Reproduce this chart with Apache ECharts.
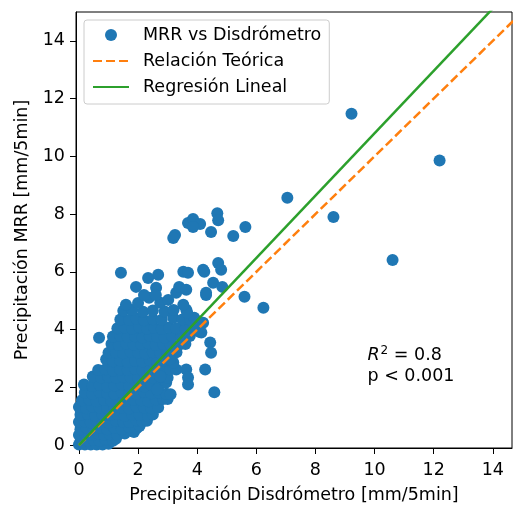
<!DOCTYPE html>
<html>
<head>
<meta charset="utf-8">
<script src="https://cdn.jsdelivr.net/npm/echarts@6/dist/echarts.min.js"></script>
<style>
  html, body { margin: 0; padding: 0; background: #fff; }
  #main { width: 513px; height: 505px; }
</style>
</head>
<body>
<div id="main"></div>
<script>
// ticks
const xTicks = [0, 2, 4, 6, 8, 10, 12, 14]
const yTicks = [0, 2, 4, 6, 8, 10, 12, 14]

// puntos (disdrómetro, MRR) leídos del gráfico
// núcleo denso cerca del origen
const denseCore = [
  [0,0.02],[0.2,0.02],[0.4,0.02],[0.6,0.02],[0.8,0.02],[1.0,0.05],
  [0.1,0.18],[0.3,0.15],[0.5,0.18],[0.7,0.15],[0.9,0.2],[1.15,0.15],[1.25,0.22],
  [0,0.35],[0.2,0.38],[0.45,0.35],[0.65,0.4],[0.85,0.35],[1.05,0.38],[1.3,0.35],[1.55,0.4],[1.86,0.45],
  [0.05,0.55],[0.25,0.6],[0.5,0.55],[0.7,0.6],[0.95,0.55],[1.2,0.6],[1.45,0.55],[1.7,0.62],[1.95,0.58],[2.05,0.66],
  [0,0.8],[0.2,0.82],[0.4,0.78],[0.6,0.84],[0.8,0.8],[1.0,0.78],[1.25,0.84],[1.5,0.8],[1.7,0.8],[1.95,0.86],[2.15,0.82],[2.3,0.84],
  [0.05,1.05],[0.3,1.08],[0.55,1.02],[0.8,1.06],[1.05,1.04],[1.3,1.08],[1.55,1.02],[1.8,1.06],[2.05,1.04],[2.34,1.0],[2.5,1.06],
  [0,1.32],[0.25,1.28],[0.45,1.34],[0.7,1.3],[0.95,1.28],[1.2,1.33],[1.45,1.3],[1.7,1.27],[1.95,1.33],[2.2,1.3],[2.45,1.28],[2.68,1.3],
  [0.1,1.55],[0.35,1.58],[0.6,1.52],[0.85,1.56],[1.1,1.54],[1.35,1.58],[1.6,1.53],[1.85,1.57],[2.1,1.55],[2.35,1.52],[2.6,1.58],[2.85,1.6],[3.0,1.6],
  [0.2,1.82],[0.45,1.78],[0.7,1.84],[0.95,1.8],[1.2,1.78],[1.45,1.83],[1.7,1.8],[1.95,1.78],[2.2,1.84],[2.45,1.8],[2.7,1.82],[2.95,1.78],[3.1,1.76],
  [0.17,2.1],[0.45,2.05],[0.7,2.08],[0.95,2.03],[1.2,2.06],[1.45,2.1],[1.7,2.04],[1.95,2.07],[2.2,2.03],[2.45,2.08],[2.7,2.05],[2.95,2.17],
  [0.47,2.38],[0.75,2.34],[1.0,2.36],[1.25,2.33],[1.5,2.37],[1.75,2.35],[2.0,2.32],[2.25,2.38],[2.5,2.34],[2.75,2.38],[3.0,2.33],
  [0.65,2.6],[0.9,2.63],[1.15,2.58],[1.4,2.62],[1.65,2.6],[1.9,2.64],[2.15,2.58],[2.4,2.62],[2.65,2.6],[2.9,2.63],[3.08,2.62],[3.29,2.62],
  [0.92,2.97],[1.15,2.9],[1.4,2.93],[1.65,2.88],[1.9,2.92],[2.15,2.9],[2.4,2.94],[2.65,2.88],[2.9,2.92],[3.08,2.97],[3.19,2.86],
  [1.0,3.2],[1.25,3.22],[1.5,3.18],[1.75,3.23],[2.0,3.2],[2.25,3.17],[2.5,3.22],[2.75,3.2],[3.0,3.18],[3.3,3.22],
  [1.1,3.5],[1.35,3.47],[1.6,3.52],[1.85,3.48],[2.1,3.5],[2.35,3.53],[2.6,3.47],[2.85,3.5],[3.1,3.48],[3.32,3.41],[3.6,3.5],
  [0.68,3.72],[1.15,3.76],[1.4,3.78],[1.65,3.74],[1.9,3.77],[2.15,3.73],[2.4,3.78],[2.65,3.75],[2.9,3.72],[3.15,3.77],[3.45,3.74],[3.75,3.78],[4.07,3.93],
  [1.3,4.05],[1.55,4.07],[1.8,4.03],[2.05,4.08],[2.3,4.04],[2.55,4.06],[2.8,4.02],[3.05,4.07],[3.3,4.05],[3.6,4.03],[3.9,4.1],
  [1.4,4.35],[1.7,4.33],[1.95,4.38],[2.2,4.32],[2.5,4.36],[2.8,4.34],[3.19,4.41],[3.5,4.35],[3.76,4.34],[4.2,4.24],[3.9,4.41],
  [1.5,4.65],[1.8,4.68],[2.17,4.62],[2.5,4.66],[2.9,4.63],[3.2,4.68],[3.63,4.69],[3.66,4.59],
  [1.59,4.86],[2.0,4.92],[2.37,5.1],[2.75,4.93],[3.02,5.03],[3.53,4.86]
]
// puntos dispersos alrededor del núcleo
const looseMid = [
  [1.93,5.48],[2.34,5.79],[2.68,5.9],[2.61,5.45],[2.2,5.2],[2.6,5.2],[3.29,5.28],[3.39,5.48],
  [3.63,5.38],[3.53,6.0],[3.69,5.97],[4.2,6.07],[4.24,6.0],[4.71,6.31],[4.81,6.07],[4.54,5.62],
  [4.85,5.48],[4.3,5.2],[4.3,5.28],[1.42,5.97],[5.6,5.14],[6.24,4.76],
  [4.44,3.55],[4.47,3.2],[4.14,3.9],[4.27,2.62],[3.63,2.62],[3.69,2.34],[3.69,2.1],[4.58,1.83],
  [2.75,2.38],[2.64,1.93],[3.08,2.97],[3.32,3.41]
]
// grupo superior (7-8 mm)
const upperGroup = [
  [3.25,7.28],[3.19,7.17],[3.69,7.69],[3.86,7.83],[4.1,7.66],[3.86,7.55],
  [4.47,7.38],[4.68,8.03],[4.71,7.79],[5.22,7.24],[5.63,7.55]
]
// valores extremos
const outliers = [[7.05,8.57],[8.61,7.9],[9.22,11.48],[12.2,9.86],[10.61,6.41]]

// regresión lineal
const regSlope = 1.08
const regIntercept = 0.0
const lineX = [0, 15]

const points = denseCore.concat(looseMid, upperGroup, outliers)

const FONT = 'DejaVu Sans'
const FS = 17.5

var myChart = echarts.init(document.getElementById('main'))

var option = {
  animation: false,
  textStyle: { fontFamily: FONT },
  grid: {
    left: 76, top: 12, right: 1, bottom: 57,
    outerBoundsMode: 'none',
    show: true, borderColor: '#000', borderWidth: 1
  },
  legend: {
    orient: 'vertical',
    left: 84, top: 20,
    padding: [6, 8, 8, 8],
    itemWidth: 36, itemHeight: 12, itemGap: 8,
    borderColor: '#cccccc', borderWidth: 1, borderRadius: 3,
    backgroundColor: 'rgba(255,255,255,0.8)',
    textStyle: { fontFamily: FONT, fontSize: FS, color: '#000', padding: [0, 0, 0, 9] },
    data: [
      { name: 'MRR vs Disdrómetro', icon: 'circle' },
      { name: 'Relación Teórica', itemStyle: { opacity: 0 } },
      { name: 'Regresión Lineal', itemStyle: { opacity: 0 } }
    ]
  },
  xAxis: {
    type: 'value', min: -0.1, max: 14.65,
    name: 'Precipitación Disdrómetro [mm/5min]',
    nameLocation: 'middle', nameGap: 38,
    nameTextStyle: { fontFamily: FONT, fontSize: FS, color: '#000' },
    splitLine: { show: false },
    axisLine: { show: true, onZero: false, lineStyle: { color: '#000', width: 1 } },
    axisTick: { show: true, length: 6, lineStyle: { color: '#000' }, customValues: xTicks },
    axisLabel: { fontSize: FS, color: '#000', margin: 13, customValues: xTicks }
  },
  yAxis: {
    type: 'value', min: -0.1, max: 15,
    name: 'Precipitación MRR [mm/5min]',
    nameLocation: 'middle', nameGap: 45,
    nameTextStyle: { fontFamily: FONT, fontSize: FS, color: '#000' },
    splitLine: { show: false },
    axisLine: { show: true, onZero: false, lineStyle: { color: '#000', width: 1 } },
    axisTick: { show: true, length: 6, lineStyle: { color: '#000' }, customValues: yTicks },
    axisLabel: { fontSize: FS, color: '#000', margin: 11, customValues: yTicks }
  },
  series: [
    {
      name: 'MRR vs Disdrómetro',
      type: 'scatter',
      symbolSize: 12,
      itemStyle: { color: '#1f77b4', opacity: 1 },
      data: points
    },
    {
      name: 'Relación Teórica',
      type: 'line',
      showSymbol: false, symbol: 'none',
      clip: true,
      lineStyle: { color: '#ff7f0e', width: 2.5, type: [9, 4] },
      itemStyle: { color: '#ff7f0e' },
      data: lineX.map(x => [x, x])
    },
    {
      name: 'Regresión Lineal',
      type: 'line',
      showSymbol: false, symbol: 'none',
      clip: true,
      lineStyle: { color: '#2ca02c', width: 2.5 },
      itemStyle: { color: '#2ca02c' },
      data: lineX.map(x => [x, regSlope * x + regIntercept])
    }
  ]
}

myChart.setOption(option)

// anotación R² y p-valor
const p1 = myChart.convertToPixel({ gridIndex: 0 }, [9.76, 3.12])
const p2 = myChart.convertToPixel({ gridIndex: 0 }, [9.76, 2.38])
myChart.setOption({
  graphic: [
    {
      type: 'text', x: p1[0], y: p1[1],
      style: {
        text: '{it|R}{sup|2}{n| = 0.8}',
        verticalAlign: 'middle',
        rich: {
          it: { fontFamily: FONT, fontStyle: 'italic', fontSize: FS, fill: '#000' },
          sup: { fontFamily: FONT, fontSize: 12, fill: '#000', verticalAlign: 'top', padding: [0, 0, 9, 1] },
          n: { fontFamily: FONT, fontSize: FS, fill: '#000' }
        }
      }
    },
    {
      type: 'text', x: p2[0], y: p2[1],
      style: { text: 'p < 0.001', fontFamily: FONT, fontSize: FS, fill: '#000', verticalAlign: 'middle' }
    }
  ]
})
</script>
</body>
</html>
